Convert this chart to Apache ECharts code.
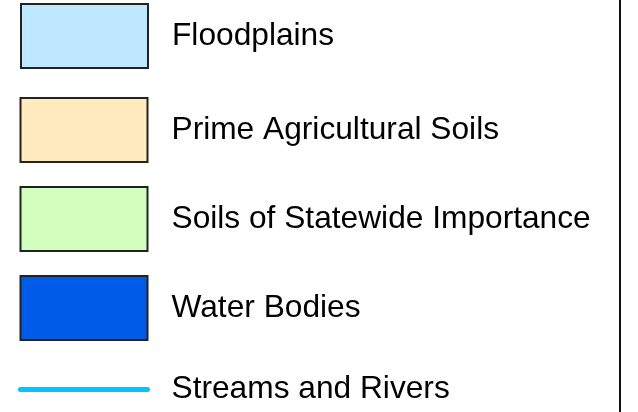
<!DOCTYPE html>
<html>
<head>
<meta charset="utf-8">
<script src="https://cdn.jsdelivr.net/npm/echarts@6/dist/echarts.min.js"></script>
<style>
  html, body { margin: 0; padding: 0; background: #fff; }
  #chart { width: 638px; height: 412px; }
</style>
</head>
<body>
<div id="chart"></div>
<script>
// legend entries (area layers)
const areaNames = ['Floodplains', 'Prime Agricultural Soils', 'Soils of Statewide Importance', 'Water Bodies']
const areaColors = ['#BEE8FF', '#FFEBBE', '#D3FFBE', '#005CE6']
// legend entries (line layers)
const lineNames = ['Streams and Rivers']
const lineColors = ['#00C5FF']

const chart = echarts.init(document.getElementById('chart'))

const textStyle = {
  fontFamily: 'Liberation Sans, Arial, sans-serif',
  fontSize: 31.7,
  color: '#000',
  padding: [4, 0, 0, 19]
}

const series = areaNames.map((name, i) => ({
  name: name,
  type: 'bar',
  data: [],
  itemStyle: { color: areaColors[i], borderColor: '#222', borderWidth: 1 }
})).concat(lineNames.map((name, i) => ({
  name: name,
  type: 'line',
  data: [],
  symbol: 'none',
  itemStyle: { color: lineColors[i] },
  lineStyle: { color: lineColors[i], width: 5, cap: 'round' }
})))

// 线图图例：只画线，不画圆点
const lineLegendItems = lineNames.map((n, i) => ({
  name: n,
  itemStyle: { color: 'transparent', borderWidth: 0, opacity: 0 },
  lineStyle: { color: lineColors[i], width: 5, cap: 'round', opacity: 1 }
}))

const option = {
  animation: false,
  grid: { show: false },
  xAxis: { show: false, type: 'category' },
  yAxis: { show: false, type: 'value' },
  legend: [
    {
      orient: 'vertical',
      left: 20,
      top: 3,
      padding: 0,
      itemWidth: 127,
      itemHeight: 64,
      icon: 'rect',
      selectedMode: false,
      data: areaNames.slice(0, 1),
      textStyle: textStyle
    },
    {
      // 圆头线条会把图例整体往右推 2px，这里补回来
      orient: 'vertical',
      left: 18,
      top: 97,
      padding: 0,
      itemWidth: 127,
      itemHeight: 64,
      itemGap: 23,
      selectedMode: false,
      data: areaNames.slice(1).map(n => ({ name: n, icon: 'rect' })).concat(lineLegendItems),
      textStyle: textStyle
    }
  ],
  graphic: [
    {
      type: 'line',
      shape: { x1: 620, y1: 0, x2: 620, y2: 412 },
      style: { stroke: '#111', lineWidth: 2 }
    }
  ],
  series: series
}

chart.setOption(option)
window.addEventListener('resize', () => chart.resize())
</script>
</body>
</html>
